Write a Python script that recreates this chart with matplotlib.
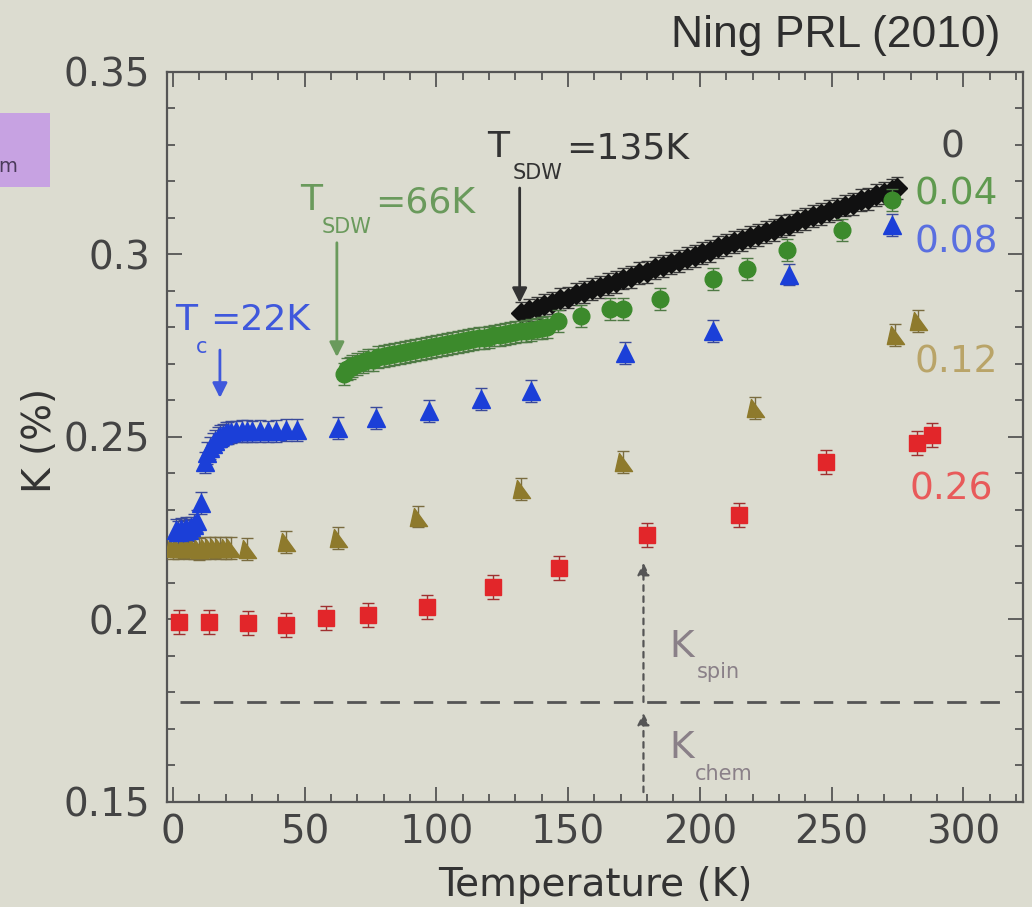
import matplotlib
matplotlib.use("Agg")
import matplotlib.pyplot as plt
from matplotlib.ticker import MultipleLocator
from matplotlib.patches import Rectangle

# ---- Knight shift K(T) for several dopings x ----
T_x000 = [132, 135, 138, 141, 144, 147, 150, 153, 156, 159, 162, 165, 168, 171, 174, 177,
          180, 183, 186, 189, 192, 195, 198, 201, 204, 207, 210, 213, 216, 219, 222, 225,
          228, 231, 234, 237, 240, 243, 246, 249, 252, 255, 258, 261, 264, 267, 270, 273, 275]
K_x000 = [0.2840, 0.2848, 0.2853, 0.2862, 0.2868, 0.2877, 0.2882, 0.2891, 0.2896, 0.2905,
          0.2910, 0.2920, 0.2925, 0.2934, 0.2939, 0.2948, 0.2953, 0.2962, 0.2968, 0.2977,
          0.2982, 0.2991, 0.2996, 0.3005, 0.3010, 0.3020, 0.3025, 0.3034, 0.3039, 0.3048,
          0.3053, 0.3062, 0.3068, 0.3077, 0.3082, 0.3091, 0.3096, 0.3105, 0.3110, 0.3120,
          0.3125, 0.3134, 0.3139, 0.3148, 0.3153, 0.3162, 0.3168, 0.3177, 0.3181]

T_x004 = [65, 66, 67, 68, 70, 72, 74, 76, 78, 80, 82, 84, 86, 88, 90, 92, 94, 96, 98, 100,
          102, 104, 106, 108, 110, 112, 114, 116, 118, 120, 122, 124, 126, 128, 130, 132,
          134, 136, 138, 140, 142, 146, 155, 166, 171, 185, 205, 218, 233, 254, 273]
K_x004 = [0.2672, 0.2685, 0.2690, 0.2695, 0.2700, 0.2706, 0.2710, 0.2712, 0.2718, 0.2722,
          0.2724, 0.2728, 0.2730, 0.2733, 0.2736, 0.2738, 0.2741, 0.2744, 0.2746, 0.2749,
          0.2752, 0.2754, 0.2757, 0.2760, 0.2762, 0.2765, 0.2768, 0.2770, 0.2772, 0.2775,
          0.2778, 0.2779, 0.2782, 0.2784, 0.2787, 0.2789, 0.2791, 0.2794, 0.2797, 0.2799,
          0.2802, 0.2817, 0.2831, 0.2850, 0.2850, 0.2877, 0.2932, 0.2959, 0.3011, 0.3068,
          0.3148]

T_x008 = [1, 2, 3, 4, 5, 6, 7, 8, 9, 10.5, 12, 13, 14, 15, 16, 17, 18, 19, 20, 21, 22,
          24, 26, 28, 30, 33, 36, 39, 43, 47, 62.5, 77, 97, 117, 136, 171.5, 205, 234, 273]
K_x008 = [0.2245, 0.2240, 0.2248, 0.2243, 0.2250, 0.2246, 0.2252, 0.2258, 0.2270, 0.2320,
          0.2430, 0.2455, 0.2470, 0.2480, 0.2490, 0.2497, 0.2502, 0.2506, 0.2510, 0.2512,
          0.2514, 0.2515, 0.2516, 0.2516, 0.2515, 0.2517, 0.2515, 0.2516, 0.2518, 0.2520,
          0.2525, 0.2552, 0.2571, 0.2604, 0.2626, 0.2730, 0.2790, 0.2945, 0.3080]

T_x012 = [0, 2, 4, 6, 8, 10, 12, 14, 16, 18, 20, 22, 28, 43, 62.5, 93, 132, 171, 221, 274, 283]
K_x012 = [0.2196, 0.2195, 0.2197, 0.2195, 0.2196, 0.2194, 0.2196, 0.2195, 0.2197, 0.2195,
          0.2196, 0.2195, 0.2194, 0.2213, 0.2224, 0.2282, 0.2358, 0.2432, 0.2580, 0.2780,
          0.2817]

T_x026 = [2.3, 13.6, 28.4, 42.8, 58, 74, 96.5, 121.6, 146.6, 180, 215, 248, 282.6, 288]
K_x026 = [0.1993, 0.1993, 0.1990, 0.1985, 0.2005, 0.2012, 0.2034, 0.2089, 0.2141, 0.2232,
          0.2286, 0.2432, 0.2484, 0.2505]

ERR_x000 = 0.003
ERR_x004 = 0.003
ERR_x008 = 0.003
ERR_x012 = 0.003
ERR_x026 = 0.0033

K_CHEM = 0.1774
T_MARK = 178.6

BG = "#dcdcd0"
C_BLACK = "#111111"
C_GREEN = "#3c8a2c"
C_BLUE = "#1b3fd8"
C_OLIVE = "#8e7a2c"
C_RED = "#e2262a"

plt.rcParams["font.family"] = ["DejaVu Sans"]

fig = plt.figure(figsize=(10.32, 9.07), dpi=100, facecolor=BG)
ax = fig.add_axes([0.1618, 0.1158, 0.8295, 0.8049], facecolor=BG)

olive_marker = [(-0.45, 1.0), (-0.9, -1.0), (1.0, -1.0), (-0.45, 1.0)]

ax.errorbar(T_x000, K_x000, yerr=ERR_x000, fmt="D", color=C_BLACK, ms=10,
            ecolor="#3a3a3a", elinewidth=1.0, capsize=4, capthick=1.0, zorder=3)
ax.errorbar(T_x004, K_x004, yerr=ERR_x004, fmt="o", color=C_GREEN, ms=12,
            ecolor="#4f7a45", elinewidth=1.0, capsize=4, capthick=1.0, zorder=4)
ax.errorbar(T_x008, K_x008, yerr=ERR_x008, fmt="^", color=C_BLUE, ms=13,
            ecolor="#3a4a9a", elinewidth=1.0, capsize=4, capthick=1.0, zorder=4)
ax.errorbar(T_x012, K_x012, yerr=ERR_x012, fmt="none", ecolor="#7a6c40",
            elinewidth=1.0, capsize=4, capthick=1.0, zorder=3)
ax.plot(T_x012, K_x012, linestyle="none", marker=olive_marker, ms=13,
        color=C_OLIVE, mec=C_OLIVE, zorder=4)
ax.errorbar(T_x026, K_x026, yerr=ERR_x026, fmt="s", color=C_RED, ms=11,
            ecolor="#a03030", elinewidth=1.0, capsize=4, capthick=1.0, zorder=4)

# K_chem baseline and the spin / chem arrows
ax.plot([2.7, 315.6], [K_CHEM, K_CHEM], linestyle=(0, (7, 5)), color="#555555",
        lw=2.0, zorder=2)
dotted = dict(arrowstyle="-|>", color="#555555", lw=1.6, linestyle=(0, (2.5, 2.5)),
              mutation_scale=18, shrinkA=0, shrinkB=0)
ax.annotate("", xy=(T_MARK, 0.2155), xytext=(T_MARK, K_CHEM), arrowprops=dotted)
ax.annotate("", xy=(T_MARK, 0.1744), xytext=(T_MARK, 0.1527), arrowprops=dotted)

c_kgray = "#8a8088"
ax.text(188.5, 0.1897, "K", fontsize=27, color=c_kgray, va="baseline")
ax.text(199, 0.1840, "spin", fontsize=15, color=c_kgray, va="baseline")
ax.text(188.5, 0.1621, "K", fontsize=27, color=c_kgray, va="baseline")
ax.text(198.3, 0.1560, "chem", fontsize=15, color=c_kgray, va="baseline")

# transition markers
solid = dict(arrowstyle="-|>", lw=2.0, mutation_scale=22, shrinkA=0, shrinkB=0)
c_tc = "#3f58dc"
ax.text(0.8, 0.2793, "T", fontsize=26, color=c_tc, va="baseline")
ax.text(8.5, 0.2730, "c", fontsize=15, color=c_tc, va="baseline")
ax.text(14.0, 0.2793, "=22K", fontsize=26, color=c_tc, va="baseline")
ax.annotate("", xy=(17.8, 0.2607), xytext=(17.8, 0.2738), arrowprops=dict(solid, color=c_tc))

c_sdw1 = "#6a9a5c"
ax.text(48.2, 0.3122, "T", fontsize=26, color=c_sdw1, va="baseline")
ax.text(56.5, 0.3058, "SDW", fontsize=15, color=c_sdw1, va="baseline")
ax.text(76.6, 0.3114, "=66K", fontsize=26, color=c_sdw1, va="baseline")
ax.annotate("", xy=(62.2, 0.2719), xytext=(62.2, 0.3032), arrowprops=dict(solid, color=c_sdw1))

c_sdw2 = "#333333"
ax.text(119.1, 0.3267, "T", fontsize=26, color=c_sdw2, va="baseline")
ax.text(128.9, 0.3208, "SDW", fontsize=15, color=c_sdw2, va="baseline")
ax.text(149.4, 0.3264, "=135K", fontsize=26, color=c_sdw2, va="baseline")
ax.annotate("", xy=(131.6, 0.2867), xytext=(131.6, 0.3182), arrowprops=dict(solid, color=c_sdw2))

# doping labels
ax.text(295.8, 0.3292, "0", fontsize=27, color="#444444", ha="center", va="center")
ax.text(281.4, 0.3163, "0.04", fontsize=27, color="#5f9a4f", va="center")
ax.text(281.4, 0.3032, "0.08", fontsize=27, color="#5a6fe0", va="center")
ax.text(281.4, 0.2705, "0.12", fontsize=27, color="#b9a468", va="center")
ax.text(279.5, 0.2355, "0.26", fontsize=27, color="#e85a5a", va="center")

ax.set_xlim(-2.3, 322.7)
ax.set_ylim(0.15, 0.35)
ax.xaxis.set_major_locator(MultipleLocator(50))
ax.xaxis.set_minor_locator(MultipleLocator(10))
ax.yaxis.set_major_locator(MultipleLocator(0.05))
ax.yaxis.set_minor_locator(MultipleLocator(0.01))
ax.yaxis.set_major_formatter(lambda v, pos: f"{v:.2f}".rstrip("0").rstrip(".") if v else "0")
ax.tick_params(which="both", direction="in", top=True, right=True, colors="#555555",
               labelcolor="#444444", labelsize=28, width=1.3)
ax.tick_params(which="major", length=11)
ax.tick_params(which="minor", length=6)
ax.tick_params(axis="x", pad=8)
ax.tick_params(axis="y", pad=12)
for sp in ax.spines.values():
    sp.set_color("#555555")
    sp.set_linewidth(1.6)

fig.text(595 / 1032, 1 - 885 / 907, "Temperature (K)", fontsize=28, color="#333333",
         ha="center", va="center")
fig.text(40 / 1032, 1 - 440 / 907, "K (%)", fontsize=28, color="#333333",
         rotation=90, ha="center", va="center")
fig.text(1000 / 1032, 1 - 35 / 907, "Ning PRL (2010)", fontsize=32, color="#2e2e2e",
         family=["Liberation Sans", "DejaVu Sans"], ha="right", va="center")

# side tab from the slide
fig.patches.append(Rectangle((0, 1 - 187 / 907), 50 / 1032, 74 / 907,
                             transform=fig.transFigure, facecolor="#c7a2e2",
                             edgecolor="none", figure=fig))
fig.text(17 / 1032, 1 - 166 / 907, "m", fontsize=14, color="#4a3a5a",
         ha="right", va="center")

fig.savefig("out.png", dpi=100, facecolor=BG)
